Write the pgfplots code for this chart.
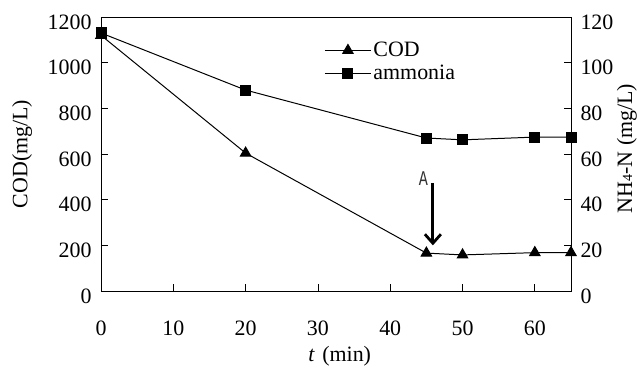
\documentclass[border=0pt]{standalone}
\usepackage{fontspec}
\setmainfont{Liberation Serif}
\newfontfamily\monofont{Liberation Mono}
\usepackage{pgfplots}
\pgfplotsset{compat=1.18}
\usetikzlibrary{arrows.meta}
\begin{document}
\begin{tikzpicture}[font=\rmfamily\fontsize{22}{23}\selectfont]
\path[use as bounding box] (-101bp,-77bp) rectangle (536bp,17bp+274bp);
\begin{axis}[
  scale only axis, width=470bp, height=274bp,
  at={(0,0)}, anchor=south west,
  xmin=0, xmax=65, ymin=0, ymax=1200,
  xtick={0,10,...,60}, ytick={0,200,...,1200},
  xtick pos=bottom, ytick pos=left, tick align=inside,
  major tick length=7bp,
  axis line style={line width=0.8pt}, tick style={line width=0.8pt, black},
  /pgf/number format/assume math mode=true,
  /pgf/number format/1000 sep={},
  ticklabel style={font=\rmfamily\fontsize{22}{23}\selectfont},
  label style={font=\rmfamily\fontsize{22}{23}\selectfont},
  xticklabel style={yshift=-26bp},
  yticklabel style={yshift=-5bp, xshift=-6bp},
  every axis y label/.style={at={(axis description cs:-0.168,0.5)}, rotate=90, anchor=center},
  ylabel={COD(mg/L)},
  every axis x label/.style={at={(axis description cs:0.508,-0.237)}, anchor=center},
  xlabel={\textit{t}\,\,(min)},
  legend style={draw=none, fill=none, at={(axis description cs:0.475,0.915)}, anchor=north west,
    row sep=3pt, inner sep=0pt, legend cell align=left,
    font=\rmfamily\fontsize{22}{22}\selectfont},
  legend image code/.code={\draw[#1, mark repeat=2, mark phase=2] plot coordinates {(0bp,0bp) (23bp,0bp) (46bp,0bp)};},
]
\addplot[black, line width=1pt, mark=triangle*, mark size=6bp] coordinates {
  (0,1120) (20,604) (45,166) (50,158) (60,168) (65,168)};
\addlegendentry{COD}
\addlegendimage{black, line width=1pt, mark=square*, mark size=5bp}
\addlegendentry{ammonia}
\draw[line width=2.8pt, -{Straight Barb[length=9bp, width=16bp, line width=2.8pt]}] (axis cs:45.9,473) -- (axis cs:45.9,200);
\node[font=\monofont\fontsize{21}{21}\selectfont, text=black!80, xscale=0.72] at (axis cs:44.6,494) {A};
\end{axis}
\begin{axis}[
  scale only axis, width=470bp, height=274bp,
  at={(0,0)}, anchor=south west,
  xmin=0, xmax=65, ymin=0, ymax=120,
  axis x line=none, axis y line*=right,
  ytick={0,20,...,120}, ytick pos=right, tick align=inside,
  major tick length=7bp,
  axis line style={line width=0.8pt, -}, tick style={line width=0.8pt, black},
  /pgf/number format/assume math mode=true,
  ticklabel style={font=\rmfamily\fontsize{22}{23}\selectfont},
  label style={font=\rmfamily\fontsize{22}{23}\selectfont},
  yticklabel style={yshift=-5bp, xshift=6bp},
  every axis y label/.style={at={(axis description cs:1.119,0.52)}, rotate=90, anchor=center},
  ylabel={NH{\fontsize{14}{14}\selectfont 4}-N (mg/L)},
]
\addplot[black, line width=1pt, mark=square*, mark size=5bp] coordinates {
  (0,113) (20,88) (45,67) (50,66.2) (60,67.4) (65,67.4)};
\end{axis}
\end{tikzpicture}
\end{document}
